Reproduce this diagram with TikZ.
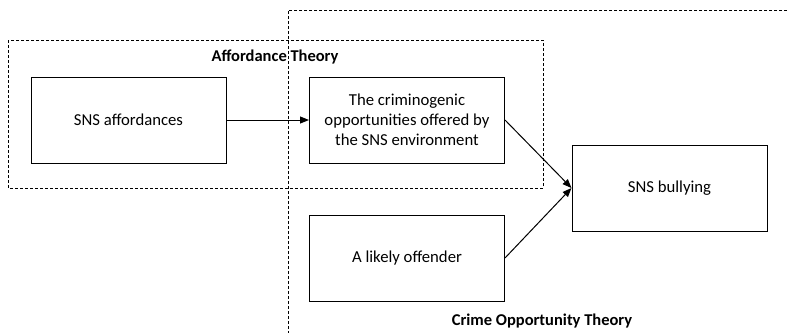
\documentclass[tikz,border=0pt]{standalone}
\usepackage{fontspec}
\setmainfont{Carlito}
\usetikzlibrary{arrows.meta}
\begin{document}
\begin{tikzpicture}[x=1pt,y=-1pt,
  box/.style={draw,line width=1pt,minimum width=195pt,minimum height=86pt,align=center,inner sep=2pt,font=\fontsize{16.7}{20}\selectfont},
  frame/.style={draw,line width=0.8pt,dash pattern=on 3pt off 2pt},
  ttl/.style={font=\fontsize{16.5}{20}\selectfont\bfseries,inner sep=0pt},
  conn/.style={line width=1pt,-{Triangle[length=9pt,width=7pt]}}]
\useasboundingbox (0,0) rectangle (787,333);
\draw[frame] (8,40) rectangle (543,188);
\coordinate (ctr) at (787,10);
\coordinate (cbl) at (288,333);
\draw[frame] (ctr) -- (288,10) -- (cbl);
\node[ttl] (at) at (275,57) {Affordance Theory};
\node[ttl] (ct) at (542,321) {Crime Opportunity Theory};
\node[box] (aff) at (128.5,120) {SNS affordances};
\node[box] (crim) at (407,120) {The criminogenic\\opportunities offered by\\the SNS environment};
\node[box] (off) at (407,258) {A likely offender};
\node[box] (bul) at (669.5,188) {SNS bullying};
\draw[conn] (aff.east) -- (crim.west);
\draw[conn] (crim.east) -- (bul.west);
\draw[conn] (off.east) -- (bul.west);
\end{tikzpicture}
\end{document}
